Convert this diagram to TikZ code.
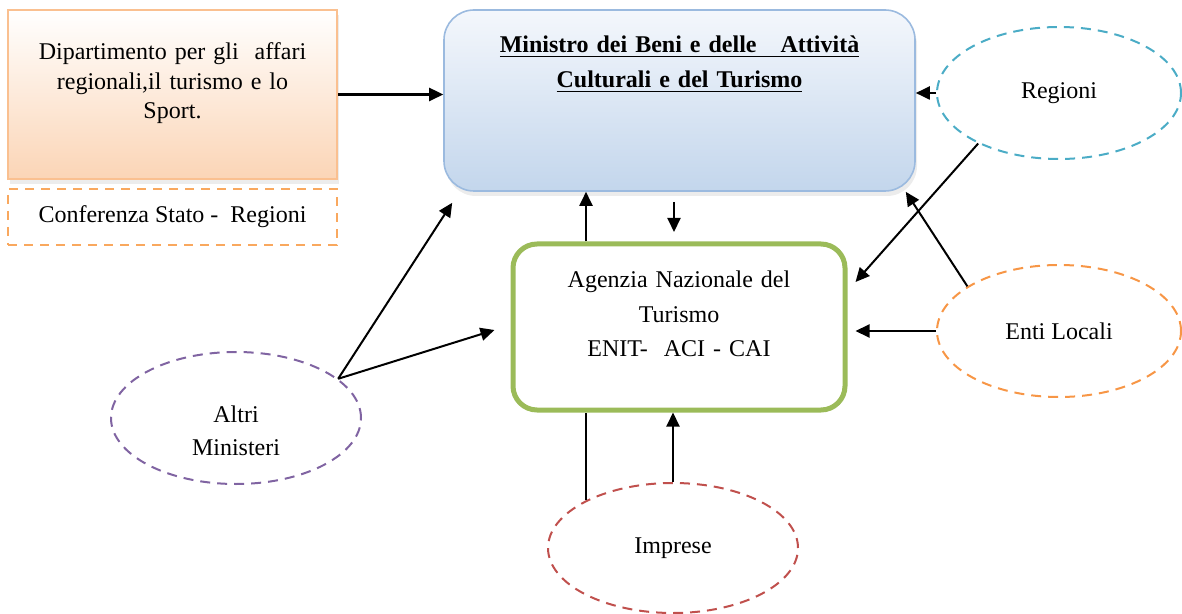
\documentclass[tikz,border=0pt]{standalone}
\usepackage{fontspec}
\setmainfont{Liberation Serif}
\usetikzlibrary{arrows.meta}
\usetikzlibrary{shapes.geometric}
\usetikzlibrary{shadows}

\definecolor{peachfill}{HTML}{FBD5B6}
\definecolor{peachline}{HTML}{FAC090}
\definecolor{confline}{HTML}{F9A85E}
\definecolor{skytop}{HTML}{F4F7FC}
\definecolor{skybottom}{HTML}{C3D6EC}
\definecolor{skyline}{HTML}{9BBADF}
\definecolor{agencygreen}{HTML}{9BBB59}
\definecolor{regblue}{HTML}{4BACC6}
\definecolor{entiorange}{HTML}{F79646}
\definecolor{altripurple}{HTML}{8064A2}
\definecolor{impred}{HTML}{C0504D}

\begin{document}
\begin{tikzpicture}[x=0.5pt,y=-0.5pt,
		every node/.style={font=\fontsize{12}{14.75}\selectfont},
		conn/.style={line width=1pt,-{Triangle[length=7pt,width=6.5pt]}},
		oval/.style={ellipse,draw,dash pattern=on 5pt off 3.5pt,line width=1pt,minimum width=125pt,minimum height=66pt,inner sep=0pt,align=center},
		soft shadow/.style={drop shadow={opacity=0.15,shadow xshift=1pt,shadow yshift=-2.5pt}}]
	\useasboundingbox (0,0) rectangle (1182,614);

	% left boxes
	\node[draw=peachline,line width=1pt,top color=white,bottom color=peachfill,soft shadow,
		minimum width=164.5pt,text width=160pt,inner sep=0pt,text height=25pt,text depth=59.5pt,align=center]
		(dip) at (172.5,94.5) {Dipartimento per gli\ \ affari\\regionali,il turismo e lo\\Sport.};
	\node[draw=confline,line width=1pt,dash pattern=on 4.5pt off 3.5pt,minimum width=164.5pt,minimum height=28pt,inner sep=0pt]
		(conf) at (172.5,217) {Conferenza Stato - \ Regioni};

	% ministero
	\node[draw=skyline,line width=0.8pt,rounded corners=15pt,top color=skytop,bottom color=skybottom,soft shadow,
		minimum width=235.5pt,text width=230pt,inner sep=0pt,text height=21.5pt,text depth=69pt,align=center,
		font=\bfseries\fontsize{12}{17.5}\selectfont]
		(mini) at (679.5,100.5) {\underline{Ministro dei Beni e delle\ \ \ Attività}\\\underline{Culturali e del Turismo}};

	% agenzia
	\node[draw=agencygreen,line width=2.5pt,rounded corners=12pt,minimum width=166pt,text width=160pt,inner sep=0pt,
		text height=22pt,text depth=61pt,align=center,font=\fontsize{12}{17.25}\selectfont]
		(agency) at (679,327) {Agenzia Nazionale del\\Turismo\\ENIT-\ \ ACI - CAI};

	% soggetti esterni
	\node[oval,draw=regblue,minimum width=122pt] (reg) at (1059,93) {Regioni};
	\node[oval,draw=entiorange,minimum width=122pt] (enti) at (1059,331) {Enti Locali};
	\node[oval,draw=altripurple,font=\fontsize{12}{16.5}\selectfont,text height=40pt,text depth=3pt] (altri) at (236,418) {Altri\\Ministeri};
	\node[oval,draw=impred,minimum height=65pt] (imp) at (673,548) {Imprese};

	\coordinate (agR) at ([xshift=4pt]agency.east);
	\coordinate (agL) at ([xshift=-46.5pt]agency.north);
	\coordinate (downA) at (674,202);
	\coordinate (downB) at (674,232);

	% connessioni
	\draw[conn,line width=1.3pt] (dip.east) -- (dip.east -| mini.west);
	\draw[conn] (reg.west) -- (reg.west -| mini.east);
	\draw[conn] (reg.212) -- ([yshift=22.5pt]agR);
	\draw[conn] (enti.154) -- ([xshift=-5pt]mini.south east);
	\draw[conn] (enti.west) -- (agR |- enti.west);
	\draw[conn] (altri.21) -- ([xshift=4.5pt,yshift=-5.5pt]mini.south west);
	\draw[conn] (altri.21) -- ([xshift=-8pt,yshift=-1.5pt]agency.west);
	\draw[conn] (agL) -- (agL |- mini.south);
	\draw[conn] (downA) -- (downB);
	\draw[line width=1pt] (imp.151) -- (imp.151 |- agency.south);
	\draw[conn] (imp.north) -- (imp.north |- agency.south);
\end{tikzpicture}
\end{document}
